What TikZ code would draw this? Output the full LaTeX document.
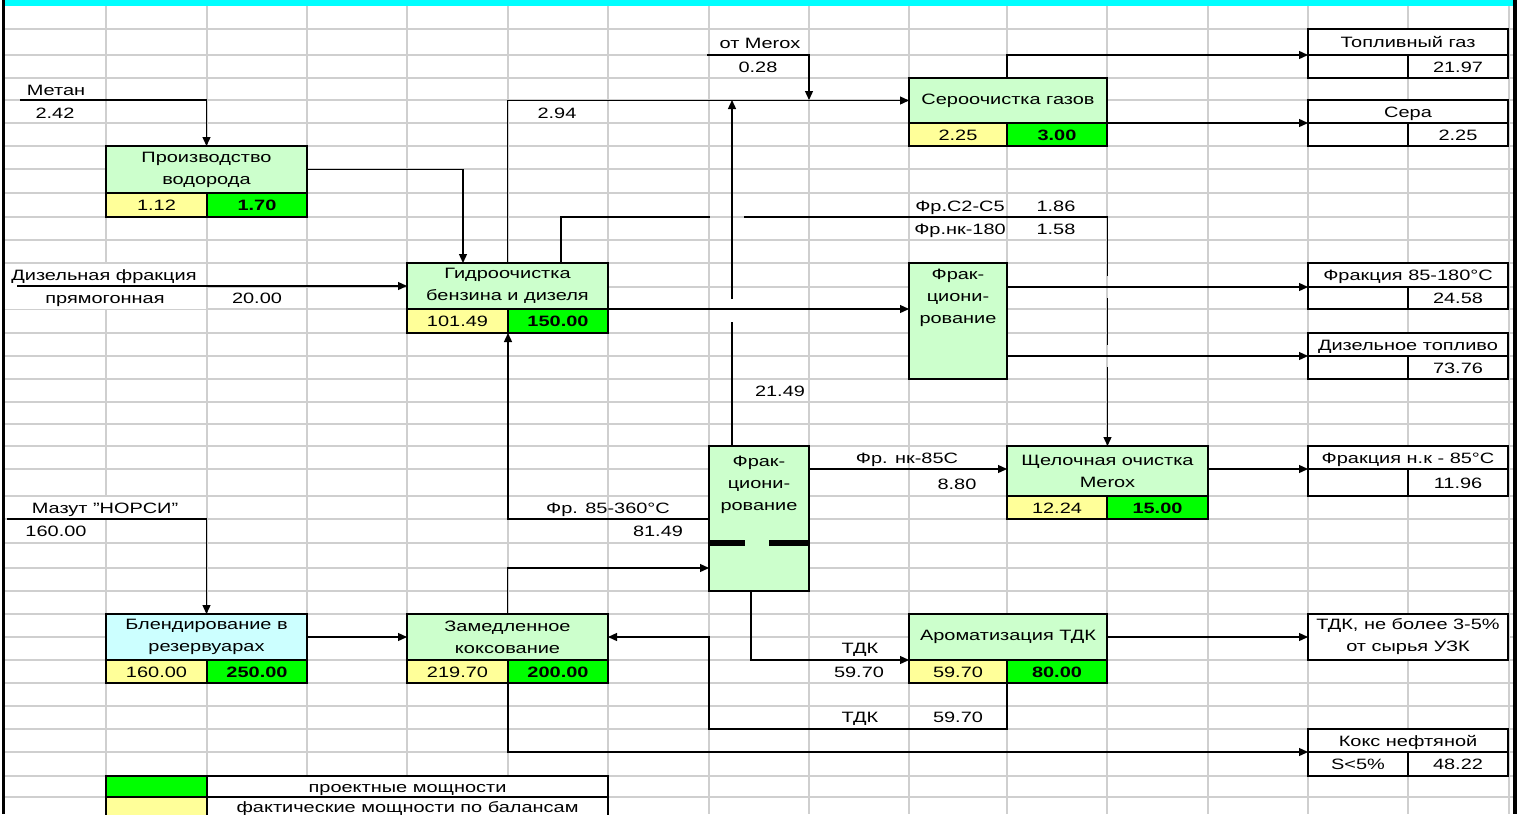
\documentclass[tikz,border=0pt]{standalone}
\usepackage{fontspec}
\setmainfont{Liberation Sans}[FakeStretch=1.33]
\usetikzlibrary{arrows.meta}
\definecolor{lgreen}{HTML}{CCFFCC}
\definecolor{lyellow}{HTML}{FFFF99}
\definecolor{bgreen}{HTML}{00FF00}
\definecolor{lcyan}{HTML}{CCFFFF}
\definecolor{cyanband}{HTML}{00FFFF}
\definecolor{gridc}{HTML}{CFCFCF}
\newcommand\xlbox[6]{\node[#1,anchor=north west,minimum width={(#4)-(#2)},minimum height={(#5)-(#3)}] (#6) at (#2,#3)}
\begin{document}
\begin{tikzpicture}[x=1pt,y=-1pt,
  font=\fontsize{15}{22}\selectfont,
  gridl/.style={gridc,line width=1.4pt},
  conn/.style={line width=1.3pt,black},
  arr/.style={conn,-{Triangle[length=9pt,width=8pt]}},
  ubox/.style={draw=black,line width=2.8pt,inner sep=1pt,outer sep=0pt,align=center},
  obox/.style={ubox,fill=white,line width=2.6pt},
  val/.style={ubox,text height=11pt,text depth=0pt},
  yval/.style={val,fill=lyellow},
  gval/.style={val,fill=bgreen,font=\fontsize{15}{22}\selectfont\bfseries},
  oval/.style={obox,text height=11pt,text depth=0pt},
  legc/.style={draw=black,line width=1.3pt,inner sep=1pt,outer sep=0pt,text height=11pt,text depth=0pt},
  lbl/.style={inner sep=0pt,text height=11pt,text depth=0pt},
  mlbl/.style={inner sep=0pt,align=center}]
\useasboundingbox (0,0) rectangle (1518,814);
\clip (0,0) rectangle (1518,814);
\fill[white] (0,0) rectangle (1518,814);
% grid
\foreach \x in {106,207,307,407,508,608,709,809,909,1007,1107,1208,1308,1408,1509}
  \draw[gridl] (\x,6) -- (\x,814);
\foreach \y in {29,55,78,100,123,146,169,193,217,240,263,287,309,333,356,379,402,424,446,469,496,519,543,568,591,614,637,660,683,706,729,752,776,797}
  \draw[gridl] (5,\y) -- (1513,\y);
% merged label cells
\fill[white] (5,264) rectangle (206,308.5);
\fill[white] (5,497) rectangle (206,518);
% band and frame
\fill[cyanband] (5,0) rectangle (1513,6);
\fill[black] (2,0) rectangle (5,814);
\fill[black] (1513,0) rectangle (1517,814);

% ---------- unit boxes ----------
\xlbox{ubox,fill=lgreen}{106}{146}{307}{193}{prod}{Производство\\водорода};
\xlbox{yval}{106}{193}{207}{217}{py}{1.12};
\xlbox{gval}{207}{193}{307}{217}{pg}{1.70};

\xlbox{ubox,fill=lgreen}{407}{263}{608}{309}{gidro}{Гидроочистка\\бензина и дизеля};
\xlbox{yval}{407}{309}{508}{333}{gy}{101.49};
\xlbox{gval}{508}{309}{608}{333}{gg}{150.00};

\xlbox{ubox,fill=lgreen}{909}{78}{1107}{123}{sero}{Сероочистка газов};
\xlbox{yval}{909}{123}{1007}{146}{sy}{2.25};
\xlbox{gval}{1007}{123}{1107}{146}{sg}{3.00};

\xlbox{ubox,fill=lgreen}{909}{263}{1007}{379}{frak1}{};
\node[mlbl] (frak1txt) at (958,298) {Фрак-\\циони-\\рование};

\xlbox{ubox,fill=lgreen}{709}{446}{809}{591}{frak2}{};
\node[mlbl] (frak2txt) at (759,485) {Фрак-\\циони-\\рование};
\fill[black] (709,540) rectangle (745,546);
\fill[black] (769,540) rectangle (809,546);

\xlbox{ubox,fill=lgreen}{1007}{446}{1208}{496}{shch}{Щелочная очистка\\Merox};
\xlbox{yval}{1007}{496}{1107}{519}{shy}{12.24};
\xlbox{gval}{1107}{496}{1208}{519}{shg}{15.00};

\xlbox{ubox,fill=lcyan}{106}{614}{307}{660}{blend}{Блендирование в\\резервуарах};
\xlbox{yval}{106}{660}{207}{683}{by}{160.00};
\xlbox{gval}{207}{660}{307}{683}{bg}{250.00};

\xlbox{ubox,fill=lgreen}{407}{614}{608}{660}{zamed}{Замедленное\\коксование};
\xlbox{yval}{407}{660}{508}{683}{zy}{219.70};
\xlbox{gval}{508}{660}{608}{683}{zg}{200.00};

\xlbox{ubox,fill=lgreen}{909}{614}{1107}{660}{arom}{Ароматизация ТДК};
\xlbox{yval}{909}{660}{1007}{683}{ay}{59.70};
\xlbox{gval}{1007}{660}{1107}{683}{ag}{80.00};

% ---------- output boxes ----------
\xlbox{oval}{1308}{29}{1508}{55}{fuelt}{Топливный газ};
\xlbox{oval}{1308}{55}{1408}{78}{fuell}{};
\xlbox{oval}{1408}{55}{1508}{78}{fuelr}{21.97};

\xlbox{oval}{1308}{100}{1508}{123}{sulft}{Сера};
\xlbox{oval}{1308}{123}{1408}{146}{sulfl}{};
\xlbox{oval}{1408}{123}{1508}{146}{sulfr}{2.25};

\xlbox{oval}{1308}{263}{1508}{287}{f85t}{Фракция 85-180°C};
\xlbox{oval}{1308}{287}{1408}{309}{f85l}{};
\xlbox{oval}{1408}{287}{1508}{309}{f85r}{24.58};

\xlbox{oval}{1308}{333}{1508}{356}{dieselt}{Дизельное топливо};
\xlbox{oval}{1308}{356}{1408}{379}{diesell}{};
\xlbox{oval}{1408}{356}{1508}{379}{dieselr}{73.76};

\xlbox{oval}{1308}{446}{1508}{469}{fnkt}{Фракция н.к - 85°C};
\xlbox{oval}{1308}{469}{1408}{496}{fnkl}{};
\xlbox{oval}{1408}{469}{1508}{496}{fnkr}{11.96};

\xlbox{obox}{1308}{614}{1508}{660}{tdk}{ТДК, не более 3-5\%\\от сырья УЗК};

\xlbox{oval}{1308}{729}{1508}{752}{kokst}{Кокс нефтяной};
\xlbox{oval}{1308}{752}{1408}{776}{koksl}{S<5\%};
\xlbox{oval}{1408}{752}{1508}{776}{koksr}{48.22};

% ---------- legend ----------
\xlbox{legc,fill=bgreen}{106}{776}{207}{797}{leggreen}{};
\xlbox{legc,fill=white}{207}{776}{608}{797}{legt1}{проектные мощности};
\xlbox{legc,fill=lyellow}{106}{797}{207}{816}{legyellow}{};
\xlbox{legc,fill=white}{207}{797}{608}{816}{legt2}{фактические мощности по балансам};

% ---------- free ends / bends ----------
\coordinate (metan) at (20,100);
\coordinate (dfr) at (17,286);
\coordinate (mazut) at (7,519);
\coordinate (merox) at (707,55);
\coordinate (meroxend) at (809,100);
\coordinate (h1a) at (710,217);
\coordinate (h1b) at (744,217);
\coordinate (v2a) at (1107.5,276);
\coordinate (v2b) at (1107.5,298);
\coordinate (v2c) at (1107.5,345);
\coordinate (v2d) at (1107.5,367);
\coordinate (v1a) at (732,322);
\coordinate (v1b) at (732,299);
\coordinate (v1end) at (732,100);
\coordinate (t1) at (709,729);

% ---------- connectors ----------
\draw[arr] (metan) -| (prod.north);
\draw[arr] (prod.east) -| ([xshift=-44.5pt]gidro.north);
\draw[arr] (gidro.north) |- (sero.west);
\draw[conn] ([xshift=53.5pt]gidro.north) |- (h1a);
\draw[conn] (h1b) -| (v2a);
\draw[conn] (v2b) -- (v2c);
\draw[arr] (v2d) -- (shch.north);
\draw[arr] (merox) -| (meroxend);
\draw[conn] ([xshift=-27pt]frak2.north) -- (v1a);
\draw[arr] (v1b) -- (v1end);
\draw[arr] ([xshift=-1pt]sero.north) |- (fuelt.south west);
\draw[arr] (sero.south east) -- (sulft.south west);
\draw[arr] (frak1.east |- f85t.south west) -- (f85t.south west);
\draw[arr] (frak1.east |- dieselt.south west) -- (dieselt.south west);
\draw[arr] (dfr) -- (gidro.west);
\draw[arr] (gidro.south east) -- (gidro.south east -| frak1.west);
\draw[arr] (frak2.west |- 0,519) -| (gy.south east);
\draw[arr] (frak2.east |- fnkt.south west) -- (shch.west |- fnkt.south west);
\draw[arr] (shch.east |- fnkt.south west) -- (fnkt.south west);
\draw[arr] ([xshift=-8pt]frak2.south) |- (arom.south west);
\draw[arr] (arom.east) -- (tdk.west);
\draw[arr] (ay.south east) |- (t1) |- (zamed.east);
\draw[arr] (zamed.north) |- (frak2.west |- 0,568);
\draw[arr] (zy.south east) |- (kokst.south west);
\draw[arr] (mazut) -| (blend.north);
\draw[arr] (blend.east) -- (zamed.west);

% ---------- labels ----------
\node[lbl] (lmetan) at (56,90) {Метан};
\node[lbl] (lmetanv) at (55,113) {2.42};
\node[lbl] (l294) at (557,113) {2.94};
\node[lbl] (lmerox) at (760,43) {от Merox};
\node[lbl] (lmeroxv) at (758,67) {0.28};
\node[lbl] (lc2) at (960,206) {Фр.С2-С5};
\node[lbl] (lc2v) at (1056,206) {1.86};
\node[lbl] (lnk) at (960,229) {Фр.нк-180};
\node[lbl] (lnkv) at (1056,229) {1.58};
\node[lbl] (ldf1) at (104,275) {Дизельная фракция};
\node[lbl] (ldf2) at (105,298) {прямогонная};
\node[lbl] (ldfv) at (257,298) {20.00};
\node[lbl] (l2149) at (780,391) {21.49};
\node[lbl] (l85) at (608,508) {Фр. 85-360°C};
\node[lbl] (l85v) at (658,531) {81.49};
\node[lbl] (lmaz) at (105,508) {Мазут \symbol{34}НОРСИ\symbol{34}};
\node[lbl] (lmazv) at (56,531) {160.00};
\node[lbl] (lnk85) at (907,458) {Фр. нк-85С};
\node[lbl] (lnk85v) at (957,484) {8.80};
\node[lbl] (ltdk1) at (860,648) {ТДК};
\node[lbl] (ltdk1v) at (859,672) {59.70};
\node[lbl] (ltdk2) at (860,717) {ТДК};
\node[lbl] (ltdk2v) at (958,717) {59.70};
\end{tikzpicture}
\end{document}
